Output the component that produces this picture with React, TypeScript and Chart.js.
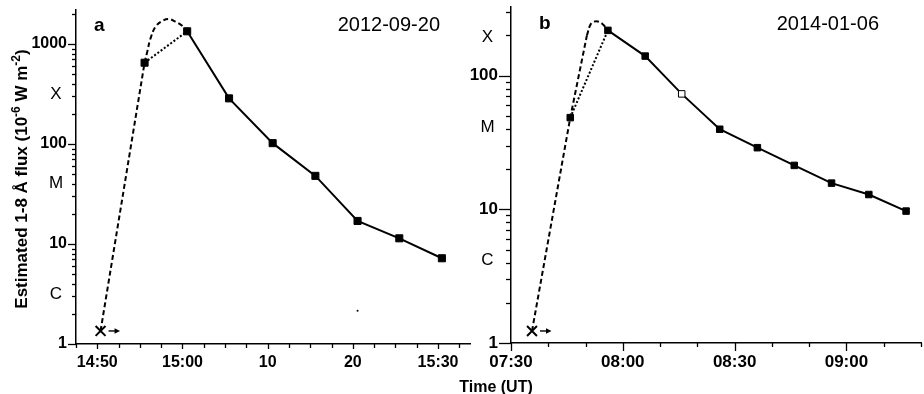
import React, { useEffect, useRef } from 'react';
import { Chart, registerables } from 'chart.js';

Chart.register(...registerables);

// ---------- Panel a : 2012-09-20 ----------
const aSquareTimes = ['14:55:33', '15:00:33', '15:05:28', '15:10:35', '15:15:36', '15:20:33', '15:25:27', '15:30:27'];
const aSquareFlux = [650, 1340, 286, 102, 48, 17.0, 11.4, 7.2];
const aSquareOpen = [false, false, false, false, false, false, false, false];
const aStartTime = '14:50:23';
const aStartFlux = 1.35;
const aRiseTimes = ['14:50:23', '14:55:33'];
const aRiseFlux = [1.35, 650];
const aCurveTimes = ['14:55:33', '14:55:52', '14:56:15', '14:56:50', '14:57:37', '14:58:23', '14:59:11', '14:59:58', '15:00:33'];
const aCurveFlux = [650, 838, 1140, 1489, 1698, 1778, 1671, 1524, 1340];
const aSpeckTimes = ['15:20:33'];
const aSpeckFlux = [2.15];
const aXTickTimes = ['14:50', '15:00', '15:10', '15:20', '15:30'];
const aXTickLabels = ['14:50', '15:00', '10', '20', '15:30'];
const aYTickValues = [1, 10, 100, 1000];
const aYTickLabels = ['1', '10', '100', '1000'];
const aClassValues = [3.2, 41, 324];

// ---------- Panel b : 2014-01-06 ----------
const bSquareTimes = ['07:45:54', '07:56:00', '08:06:00', '08:15:48', '08:26:00', '08:36:06', '08:46:00', '08:56:00', '09:06:00', '09:16:00'];
const bSquareFlux = [48.5, 218, 140, 73, 39.7, 28.9, 21.3, 15.7, 12.9, 9.7];
const bSquareOpen = [false, false, false, true, false, false, false, false, false, false];
const bStartTime = '07:35:38';
const bStartFlux = 1.23;
const bRiseTimes = ['07:35:38', '07:45:54', '07:50:22'];
const bRiseFlux = [1.23, 48.5, 200];
const bCurveTimes = ['07:50:22', '07:51:18', '07:52:14', '07:53:34', '07:54:46', '07:56:00'];
const bCurveFlux = [200, 240, 253, 253, 240, 218];
const bXTickTimes = ['07:30', '08:00', '08:30', '09:00'];
const bXTickLabels = ['07:30', '08:00', '08:30', '09:00'];
const bYTickValues = [1, 10, 100];
const bYTickLabels = ['1', '10', '100'];
const bClassValues = [4.23, 41.8, 197];

const classLetters = ['C', 'M', 'X'];

const FONT = "'Liberation Sans', Arial, Helvetica, sans-serif";

const toMin = (s: string) => {
  const [h, m, sec] = s.split(':');
  return Number(h) * 60 + Number(m) + (sec ? Number(sec) / 60 : 0);
};

const pts = (times: string[], vals: number[]) => times.map((t, i) => ({ x: toMin(t), y: vals[i] }));

interface PanelCfg {
  canvasLeft: number;
  canvasWidth: number;
  yAxisWidth: number;
  xAxisHeight: number;
  padTop: number;
  padRight: number;
  yMin: number;
  yMax: number;
  xMin: string;
  xMax: string;
  xStep: number;
  yLabelPad: number;
  xLabelPad: number;
  tickFontSize: number;
  yMajorLen: number;
  yMinorLen: number;
  xMajorLen: number;
  xMinorLen: number;
  letterOffset: number;
  panelLetter: string;
  panelLetterDx: number;
  panelLetterBase: number;
  date: string;
  dateRightGap: number;
  dateBase: number;
  showYTitle: boolean;
  squareRadius: number;
  squareTimes: string[];
  squareFlux: number[];
  squareOpen: boolean[];
  startTime: string;
  startFlux: number;
  riseTimes: string[];
  riseFlux: number[];
  curveTimes: string[];
  curveFlux: number[];
  speckTimes: string[];
  speckFlux: number[];
  xTickTimes: string[];
  xTickLabels: string[];
  yTickValues: number[];
  yTickLabels: string[];
  classValues: number[];
}

const panelA: PanelCfg = {
  canvasLeft: 0,
  canvasWidth: 472,
  yAxisWidth: 76,
  xAxisHeight: 50,
  padTop: 10,
  padRight: 2,
  yMin: 1,
  yMax: 2188,
  xMin: '14:47:30',
  xMax: '15:33:45',
  xStep: 2.5,
  yLabelPad: 9,
  xLabelPad: 9,
  tickFontSize: 16,
  yMajorLen: 8,
  yMinorLen: 4,
  xMajorLen: 5,
  xMinorLen: 4,
  letterOffset: 20,
  panelLetter: 'a',
  panelLetterDx: 18,
  panelLetterBase: 31,
  date: '2012-09-20',
  dateRightGap: 30,
  dateBase: 31,
  showYTitle: true,
  squareRadius: 5,
  squareTimes: aSquareTimes,
  squareFlux: aSquareFlux,
  squareOpen: aSquareOpen,
  startTime: aStartTime,
  startFlux: aStartFlux,
  riseTimes: aRiseTimes,
  riseFlux: aRiseFlux,
  curveTimes: aCurveTimes,
  curveFlux: aCurveFlux,
  speckTimes: aSpeckTimes,
  speckFlux: aSpeckFlux,
  xTickTimes: aXTickTimes,
  xTickLabels: aXTickLabels,
  yTickValues: aYTickValues,
  yTickLabels: aYTickLabels,
  classValues: aClassValues,
};

const panelB: PanelCfg = {
  canvasLeft: 462,
  canvasWidth: 462,
  yAxisWidth: 49,
  xAxisHeight: 51,
  padTop: 7,
  padRight: 3,
  yMin: 1,
  yMax: 326,
  xMin: '07:30',
  xMax: '09:20',
  xStep: 10,
  yLabelPad: 13,
  xLabelPad: 9,
  tickFontSize: 17,
  yMajorLen: 12,
  yMinorLen: 5,
  xMajorLen: 8,
  xMinorLen: 4,
  letterOffset: 23.5,
  panelLetter: 'b',
  panelLetterDx: 28,
  panelLetterBase: 29,
  date: '2014-01-06',
  dateRightGap: 42,
  dateBase: 30,
  showYTitle: false,
  squareRadius: 4.6,
  squareTimes: bSquareTimes,
  squareFlux: bSquareFlux,
  squareOpen: bSquareOpen,
  startTime: bStartTime,
  startFlux: bStartFlux,
  riseTimes: bRiseTimes,
  riseFlux: bRiseFlux,
  curveTimes: bCurveTimes,
  curveFlux: bCurveFlux,
  speckTimes: [],
  speckFlux: [],
  xTickTimes: bXTickTimes,
  xTickLabels: bXTickLabels,
  yTickValues: bYTickValues,
  yTickLabels: bYTickLabels,
  classValues: bClassValues,
};

function makeConfig(p: PanelCfg): any {
  const xMin = toMin(p.xMin);
  const xMax = toMin(p.xMax);
  const xLabelMap = new Map<number, string>();
  p.xTickTimes.forEach((t, i) => xLabelMap.set(Math.round(toMin(t) * 100), p.xTickLabels[i]));
  const yLabelMap = new Map<number, string>();
  p.yTickValues.forEach((v, i) => yLabelMap.set(v, p.yTickLabels[i]));

  const tickMarks = {
    id: 'tickMarks',
    afterDraw(chart: any) {
      const ctx = chart.ctx;
      const xs = chart.scales.x;
      const ys = chart.scales.y;
      ctx.save();
      ctx.strokeStyle = '#000';
      ctx.lineWidth = 1.3;
      for (const t of xs.ticks) {
        const px = Math.round(xs.getPixelForValue(t.value)) + 0.5;
        const len = t.major ? p.xMajorLen : p.xMinorLen;
        ctx.beginPath();
        ctx.moveTo(px, xs.top);
        ctx.lineTo(px, xs.top + len);
        ctx.stroke();
      }
      for (const t of ys.ticks) {
        const py = Math.round(ys.getPixelForValue(t.value)) + 0.5;
        const len = t.major ? p.yMajorLen : p.yMinorLen;
        ctx.beginPath();
        ctx.moveTo(ys.right - len, py);
        ctx.lineTo(ys.right, py);
        ctx.stroke();
      }
      ctx.restore();
    },
  };

  const decor = {
    id: 'decor',
    afterDraw(chart: any) {
      const ctx = chart.ctx;
      const xs = chart.scales.x;
      const ys = chart.scales.y;
      const area = chart.chartArea;
      ctx.save();
      ctx.fillStyle = '#000';
      ctx.strokeStyle = '#000';
      // class letters
      ctx.font = `17px ${FONT}`;
      ctx.textAlign = 'center';
      ctx.textBaseline = 'middle';
      p.classValues.forEach((v, i) => {
        ctx.fillText(classLetters[i], area.left - p.letterOffset, ys.getPixelForValue(v) + 1);
      });
      // panel letter
      ctx.font = `bold 19px ${FONT}`;
      ctx.textAlign = 'left';
      ctx.textBaseline = 'alphabetic';
      ctx.fillText(p.panelLetter, area.left + p.panelLetterDx, p.panelLetterBase);
      // date
      ctx.font = `20px ${FONT}`;
      ctx.textAlign = 'right';
      ctx.fillText(p.date, area.right - p.dateRightGap, p.dateBase);
      // arrow next to start marker
      const sx = xs.getPixelForValue(toMin(p.startTime));
      const sy = ys.getPixelForValue(p.startFlux);
      ctx.lineWidth = 1.4;
      ctx.beginPath();
      ctx.moveTo(sx + 8, sy);
      ctx.lineTo(sx + 15, sy);
      ctx.stroke();
      ctx.beginPath();
      ctx.moveTo(sx + 19.5, sy);
      ctx.lineTo(sx + 14, sy - 2.8);
      ctx.lineTo(sx + 14, sy + 2.8);
      ctx.closePath();
      ctx.fill();
      // y axis title (rich text with superscripts)
      if (p.showYTitle) {
        const segs: [string, boolean][] = [
          ['Estimated 1-8 Å flux (10', false],
          ['-6', true],
          [' W m', false],
          ['-2', true],
          [')', false],
        ];
        const mainFont = `bold 17px ${FONT}`;
        const supFont = `bold 12px ${FONT}`;
        let total = 0;
        for (const [t, sup] of segs) {
          ctx.font = sup ? supFont : mainFont;
          total += ctx.measureText(t).width;
        }
        ctx.translate(26.5, 179);
        ctx.rotate(-Math.PI / 2);
        ctx.textAlign = 'left';
        ctx.textBaseline = 'alphabetic';
        let cx = -total / 2;
        for (const [t, sup] of segs) {
          ctx.font = sup ? supFont : mainFont;
          ctx.fillText(t, cx, sup ? -7 : 0);
          cx += ctx.measureText(t).width;
        }
      }
      ctx.restore();
    },
  };

  const datasets: any[] = [
    {
      label: 'start',
      data: [{ x: toMin(p.startTime), y: p.startFlux }],
      showLine: false,
      pointStyle: 'crossRot',
      pointRadius: 7,
      pointBorderWidth: 2,
      pointBorderColor: '#000',
      borderColor: '#000',
    },
    {
      label: 'squares',
      data: pts(p.squareTimes, p.squareFlux),
      showLine: false,
      pointStyle: 'rect',
      pointRadius: p.squareRadius,
      pointBorderWidth: 1,
      pointBorderColor: '#000',
      pointBackgroundColor: p.squareOpen.map((o) => (o ? '#fff' : '#000')),
    },
    {
      label: 'decay',
      data: pts(p.squareTimes.slice(1), p.squareFlux.slice(1)),
      borderColor: '#000',
      borderWidth: 2,
      pointRadius: 0,
      tension: 0,
    },
    {
      label: 'direct',
      data: pts(p.squareTimes.slice(0, 2), p.squareFlux.slice(0, 2)),
      borderColor: '#000',
      borderWidth: 2,
      borderDash: [2, 2],
      pointRadius: 0,
      tension: 0,
    },
    {
      label: 'rise',
      data: pts(p.riseTimes, p.riseFlux),
      borderColor: '#000',
      borderWidth: 2,
      borderDash: [5, 3],
      pointRadius: 0,
      tension: 0,
    },
    {
      label: 'peak',
      data: pts(p.curveTimes, p.curveFlux),
      borderColor: '#000',
      borderWidth: 2,
      borderDash: [5, 3],
      pointRadius: 0,
      tension: 0.4,
    },
  ];
  if (p.speckTimes.length) {
    datasets.push({
      label: 'speck',
      data: pts(p.speckTimes, p.speckFlux),
      showLine: false,
      pointStyle: 'circle',
      pointRadius: 1,
      pointBorderWidth: 0,
      pointBackgroundColor: '#000',
    });
  }

  const noPad = (s: any) => {
    s.paddingTop = 0;
    s.paddingBottom = 0;
    s.paddingLeft = 0;
    s.paddingRight = 0;
  };

  return {
    type: 'line',
    data: { datasets },
    plugins: [tickMarks, decor],
    options: {
      responsive: false,
      maintainAspectRatio: false,
      animation: false,
      events: [],
      layout: { autoPadding: false, padding: { top: p.padTop, right: p.padRight, left: 0, bottom: 0 } },
      plugins: { legend: { display: false }, tooltip: { enabled: false }, title: { display: false } },
      datasets: { line: { clip: false, fill: false } },
      scales: {
        x: {
          type: 'linear',
          min: xMin,
          max: xMax,
          grid: { display: false, drawTicks: false, tickLength: 0 },
          border: { display: true, color: '#000', width: 1.5 },
          afterBuildTicks: (s: any) => {
            const ticks: any[] = [];
            for (let v = xMin; v <= xMax + 1e-6; v += p.xStep) {
              const key = Math.round(v * 100);
              ticks.push({ value: v, major: xLabelMap.has(key) });
            }
            s.ticks = ticks;
          },
          afterFit: (s: any) => {
            s.height = p.xAxisHeight;
            noPad(s);
          },
          ticks: {
            autoSkip: false,
            maxRotation: 0,
            minRotation: 0,
            padding: p.xLabelPad,
            color: '#000',
            font: { family: FONT, size: p.tickFontSize, weight: 'bold' },
            callback: (v: number) => xLabelMap.get(Math.round(v * 100)) ?? '',
          },
        },
        y: {
          type: 'logarithmic',
          min: p.yMin,
          max: p.yMax,
          grid: { display: false, drawTicks: false, tickLength: 0 },
          border: { display: true, color: '#000', width: 1.5 },
          afterBuildTicks: (s: any) => {
            const ticks: any[] = [];
            for (let d = 1; d <= p.yMax; d *= 10) {
              for (let k = 1; k <= 9; k++) {
                const v = k * d;
                if (v <= p.yMax) ticks.push({ value: v, major: k === 1 });
              }
            }
            s.ticks = ticks;
          },
          afterFit: (s: any) => {
            s.width = p.yAxisWidth;
            noPad(s);
          },
          ticks: {
            autoSkip: false,
            padding: p.yLabelPad,
            color: '#000',
            font: { family: FONT, size: p.tickFontSize, weight: 'bold' },
            callback: (v: number) => yLabelMap.get(v) ?? '',
          },
        },
      },
    },
  };
}

function Panel({ cfg }: { cfg: PanelCfg }) {
  const ref = useRef<HTMLCanvasElement | null>(null);
  useEffect(() => {
    if (!ref.current) return;
    const chart = new Chart(ref.current, makeConfig(cfg));
    return () => chart.destroy();
  }, [cfg]);
  return (
    <canvas
      ref={ref}
      width={cfg.canvasWidth}
      height={394}
      style={{ position: 'absolute', left: cfg.canvasLeft, top: 0, width: cfg.canvasWidth, height: 394 }}
    />
  );
}

export default function App() {
  return (
    <div style={{ position: 'absolute', left: 0, top: 0, width: 924, height: 394, background: '#fff', overflow: 'hidden' }}>
      <Panel cfg={panelA} />
      <Panel cfg={panelB} />
      <div
        style={{
          position: 'absolute',
          left: 446,
          width: 100,
          top: 379,
          textAlign: 'center',
          font: `bold 16px ${FONT}`,
          lineHeight: '16px',
          color: '#000',
          whiteSpace: 'nowrap',
        }}
      >
        Time (UT)
      </div>
    </div>
  );
}
